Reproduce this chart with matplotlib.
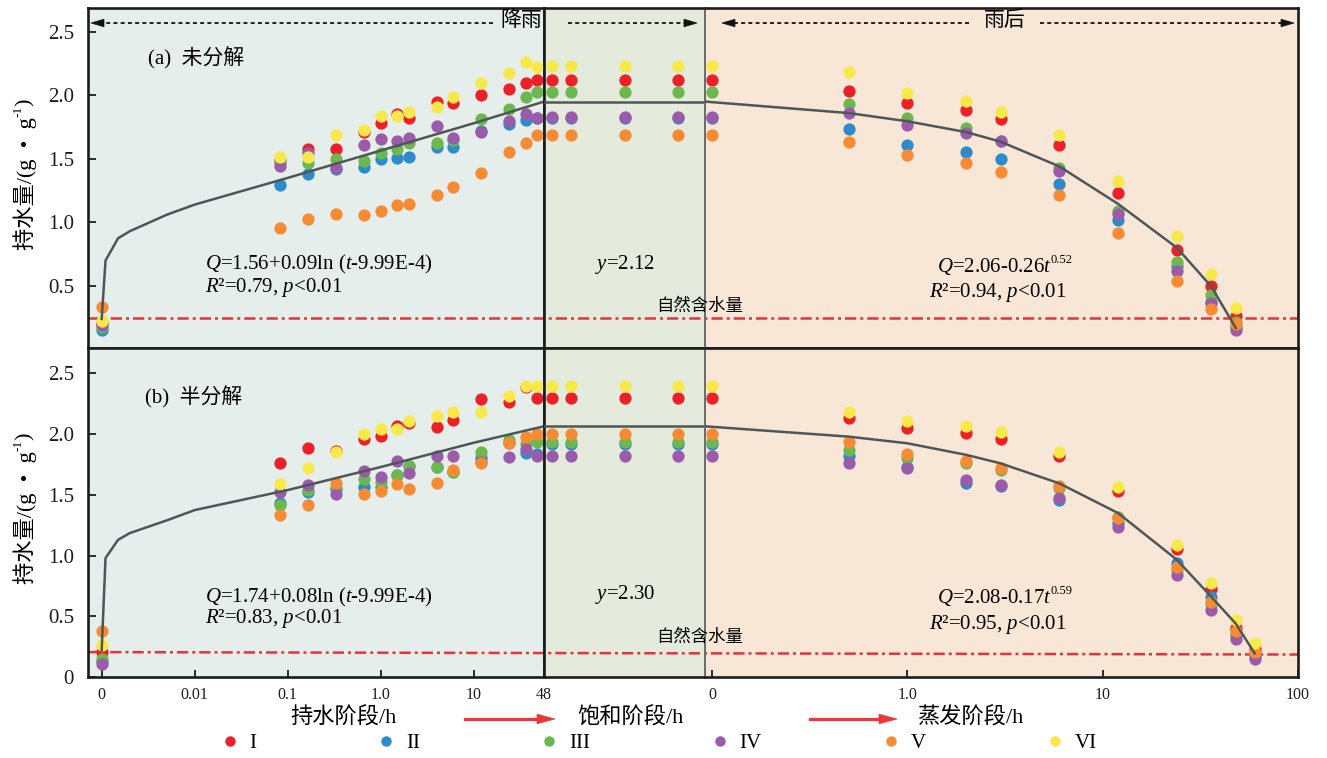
import numpy as np
import matplotlib
matplotlib.use('Agg')
import matplotlib.pyplot as plt
from matplotlib.lines import Line2D
from matplotlib.patches import Polygon
from matplotlib.ticker import NullLocator
from matplotlib.transforms import blended_transform_factory

plt.rcParams['font.family'] = ['Liberation Serif', 'Noto Sans CJK SC', 'DejaVu Sans']
plt.rcParams['mathtext.fontset'] = 'custom'
plt.rcParams['mathtext.rm'] = 'Liberation Serif'
plt.rcParams['mathtext.it'] = 'Liberation Serif:italic'
plt.rcParams['mathtext.bf'] = 'Liberation Serif:bold'
plt.rcParams['axes.unicode_minus'] = False

# ---------------- data ----------------
series = ['I', 'II', 'III', 'IV', 'V', 'VI']
colors = ['#EC2027', '#2E8BCB', '#6BB84F', '#9A5BAA', '#F68B33', '#F8E94B']

hold_t = [0, 1/12, 1/6, 1/3, 2/3, 1, 1.5, 2, 4, 6, 12, 24, 36, 48]
sat_pos = [0.5, 1.7, 5.0, 8.3]
evap_t_a = [0, 0.5, 1, 2, 3, 6, 12, 24, 36, 48]
evap_t_b = [0, 0.5, 1, 2, 3, 6, 12, 24, 36, 48, 60]

hold_a = {
    'I':   [0.21, 1.49, 1.575, 1.575, 1.71, 1.78, 1.855, 1.82, 1.95, 1.935, 2.005, 2.05, 2.095, 2.12],
    'II':  [0.155, 1.295, 1.378, 1.417, 1.438, 1.50, 1.507, 1.517, 1.59, 1.59, 1.72, 1.775, 1.805, 1.82],
    'III': [0.18, 1.465, 1.465, 1.496, 1.48, 1.548, 1.58, 1.622, 1.622, 1.65, 1.81, 1.894, 1.984, 2.028],
    'IV':  [0.19, 1.446, 1.543, 1.43, 1.606, 1.659, 1.643, 1.661, 1.756, 1.66, 1.714, 1.797, 1.853, 1.824],
    'V':   [0.337, 0.953, 1.024, 1.069, 1.056, 1.087, 1.14, 1.145, 1.216, 1.281, 1.386, 1.551, 1.622, 1.687],
    'VI':  [0.227, 1.517, 1.517, 1.685, 1.727, 1.837, 1.837, 1.868, 1.905, 1.989, 2.094, 2.172, 2.264, 2.225],
}
sat_a = {
    'I':   [2.12, 2.12, 2.12, 2.12],
    'II':  [1.82, 1.82, 1.82, 1.82],
    'III': [2.025, 2.025, 2.025, 2.025],
    'IV':  [1.825, 1.825, 1.825, 1.825],
    'V':   [1.688, 1.688, 1.688, 1.688],
    'VI':  [2.23, 2.23, 2.23, 2.23],
}
evap_a = {
    'I':   [2.12, 2.034, 1.94, 1.884, 1.814, 1.607, 1.23, 0.784, 0.50, 0.26],
    'II':  [1.82, 1.733, 1.612, 1.554, 1.497, 1.303, 1.02, 0.653, 0.37, 0.18],
    'III': [2.026, 1.932, 1.819, 1.743, 1.64, 1.426, 1.093, 0.692, 0.43, 0.22],
    'IV':  [1.826, 1.858, 1.767, 1.70, 1.641, 1.407, 1.064, 0.621, 0.369, 0.155],
    'V':   [1.688, 1.63, 1.528, 1.468, 1.40, 1.219, 0.92, 0.542, 0.317, 0.20],
    'VI':  [2.228, 2.183, 2.018, 1.955, 1.866, 1.688, 1.324, 0.894, 0.597, 0.325],
}
hold_b = {
    'I':   [0.206, 1.763, 1.889, 1.865, 1.961, 1.983, 2.071, 2.09, 2.057, 2.118, 2.291, 2.266, 2.39, 2.302],
    'II':  [0.132, 1.436, 1.526, 1.55, 1.568, 1.568, 1.66, 1.74, 1.73, 1.69, 1.80, 1.93, 1.843, 1.84],
    'III': [0.15, 1.419, 1.54, 1.554, 1.628, 1.609, 1.664, 1.741, 1.727, 1.686, 1.851, 1.95, 1.917, 1.933],
    'IV':  [0.11, 1.521, 1.581, 1.504, 1.697, 1.65, 1.782, 1.683, 1.823, 1.823, 1.77, 1.812, 1.878, 1.823],
    'V':   [0.377, 1.334, 1.419, 1.595, 1.504, 1.535, 1.59, 1.548, 1.601, 1.705, 1.76, 1.931, 1.975, 2.0],
    'VI':  [0.261, 1.587, 1.719, 1.856, 2.0, 2.046, 2.041, 2.112, 2.151, 2.181, 2.186, 2.313, 2.401, 2.401],
}
sat_b = {
    'I':   [2.302, 2.302, 2.302, 2.302],
    'II':  [1.92, 1.92, 1.92, 1.92],
    'III': [1.933, 1.933, 1.933, 1.933],
    'IV':  [1.821, 1.821, 1.821, 1.821],
    'V':   [2.002, 2.002, 2.002, 2.002],
    'VI':  [2.401, 2.401, 2.401, 2.401],
}
evap_b = {
    'I':   [2.302, 2.134, 2.052, 2.008, 1.958, 1.821, 1.535, 1.053, 0.721, 0.407, 0.23],
    'II':  [1.92, 1.821, 1.73, 1.60, 1.57, 1.458, 1.271, 0.935, 0.66, 0.35, 0.17],
    'III': [1.933, 1.870, 1.80, 1.76, 1.705, 1.554, 1.32, 0.88, 0.605, 0.358, 0.20],
    'IV':  [1.821, 1.76, 1.719, 1.623, 1.581, 1.471, 1.238, 0.839, 0.55, 0.311, 0.151],
    'V':   [2.002, 1.936, 1.837, 1.782, 1.719, 1.576, 1.306, 0.902, 0.619, 0.38, 0.206],
    'VI':  [2.401, 2.186, 2.109, 2.068, 2.021, 1.856, 1.568, 1.086, 0.778, 0.468, 0.28],
}

# fitted curves
fit_hold_x = [0.001, 0.0011, 0.0015, 0.002, 0.005, 0.01, 0.1, 1, 10, 56.6]
fit_hold_a = [0.24, 0.70, 0.875, 0.93, 1.06, 1.14, 1.35, 1.565, 1.78, 1.95]
fit_hold_b = [0.22, 0.98, 1.13, 1.185, 1.29, 1.375, 1.54, 1.73, 1.93, 2.065]
fit_sat_a = 1.95
fit_sat_b = 2.065
fit_evap_x_a = [0.092, 0.5, 1, 2, 3, 6, 12, 24, 36, 48]
fit_evap_a = [1.95, 1.86, 1.795, 1.71, 1.635, 1.44, 1.145, 0.80, 0.495, 0.17]
fit_evap_x_b = [0.092, 0.5, 1, 2, 3, 6, 12, 24, 36, 48, 60]
fit_evap_b = [2.065, 1.98, 1.925, 1.83, 1.76, 1.595, 1.35, 0.965, 0.66, 0.44, 0.195]

natural_a = [0.245, 0.245]
natural_b = [0.205, 0.185]

eq_hold_a = [r'$Q$=1.56+0.09ln ($t$-9.99E-4)', r'$R$²=0.79, $p$<0.01']
eq_hold_b = [r'$Q$=1.74+0.08ln ($t$-9.99E-4)', r'$R$²=0.83, $p$<0.01']
eq_sat_a = r'$y$=2.12'
eq_sat_b = r'$y$=2.30'
eq_evap_a = [(r'$Q$=2.06-0.26$t$', '0.52'), r'$R$²=0.94, $p$<0.01']
eq_evap_b = [(r'$Q$=2.08-0.17$t$', '0.59'), r'$R$²=0.95, $p$<0.01']

hold_ticks = [0.001, 0.01, 0.1, 1, 10, 56.6]
hold_ticklabels = ['0', '0.01', '0.1', '1.0', '10', '48']
evap_ticks = [0.1, 1, 10, 100]
evap_ticklabels = ['0', '1.0', '10', '100']

# ---------------- figure ----------------
W, H = 1327, 758
fig = plt.figure(figsize=(W / 100, H / 100), dpi=100)
renderer = fig.canvas.get_renderer()


def fx(px):
    return px / W


def fy(py):
    return 1 - py / H


X0, X1, X2, X3 = 88, 544, 705, 1298
panels = [(8, 348, (0.012, 2.686)), (348, 677, (0.0, 2.71))]
bg = ['#E6EEEC', '#E4EBDC', '#F8E7D6']
fit_col = '#4F5657'
SPW = 1.9
SPC = '#1c1c1c'

axes_all = []
for pi, (yt, yb, ylim) in enumerate(panels):
    row = []
    for si, (xa, xb) in enumerate([(X0, X1), (X1, X2), (X2, X3)]):
        ax = fig.add_axes([fx(xa), fy(yb), fx(xb) - fx(xa), fy(yt) - fy(yb)])
        ax.set_facecolor(bg[si])
        ax.set_ylim(*ylim)
        for s in ax.spines.values():
            s.set_linewidth(SPW)
            s.set_color(SPC)
        row.append(ax)
    axes_all.append(row)

for pi, row in enumerate(axes_all):
    a1, a2, a3 = row
    a1.set_xscale('log')
    a1.set_xlim(10 ** -3.147, 10 ** 1.753)
    a2.set_xlim(0, 10)
    a3.set_xscale('log')
    a3.set_xlim(10 ** -1.036, 100)
    a2.spines['right'].set_visible(False)
    a3.spines['left'].set_color('#6a6a6a')
    a3.spines['left'].set_linewidth(1.4)
    for ax in row:
        ax.xaxis.set_minor_locator(NullLocator())
        ax.yaxis.set_minor_locator(NullLocator())
    for ax in (a2, a3):
        ax.set_yticks([])
    a2.set_xticks([])
    if pi == 0:
        a1.set_xticks([])
        a3.set_xticks([])
        a1.set_yticks([0.5, 1.0, 1.5, 2.0, 2.5])
        a1.set_yticklabels(['0.5', '1.0', '1.5', '2.0', '2.5'])
    else:
        a1.set_xticks(hold_ticks)
        a1.set_xticklabels(hold_ticklabels)
        a3.set_xticks(evap_ticks)
        a3.set_xticklabels(evap_ticklabels)
        a1.set_yticks([0, 0.5, 1.0, 1.5, 2.0, 2.5])
        a1.set_yticklabels(['0', '0.5', '1.0', '1.5', '2.0', '2.5'])
        for ax in (a1, a3):
            ax.tick_params(axis='x', direction='in', length=5, width=1.3,
                           labelsize=11.5, pad=7, colors='#1c1c1c')
    a1.tick_params(axis='y', direction='in', length=6, width=1.3,
                   labelsize=15, pad=10, colors='#1c1c1c')

datasets = [
    (hold_a, sat_a, evap_a, evap_t_a, fit_hold_a, fit_sat_a, fit_evap_x_a, fit_evap_a, natural_a),
    (hold_b, sat_b, evap_b, evap_t_b, fit_hold_b, fit_sat_b, fit_evap_x_b, fit_evap_b, natural_b),
]

MS = 78
for pi, (hold, sat, evap, evap_t, fh, fs, fex, fe, nat) in enumerate(datasets):
    a1, a2, a3 = axes_all[pi]
    hx = np.where(np.array(hold_t) == 0, 0.001, np.array(hold_t))
    ex = np.where(np.array(evap_t) == 0, 0.1, np.array(evap_t))
    for name, c in zip(series, colors):
        a1.scatter(hx, hold[name], s=MS, color=c, linewidths=0, zorder=3)
        a2.scatter(sat_pos, sat[name], s=MS, color=c, linewidths=0, zorder=3)
        a3.scatter(ex, evap[name], s=MS, color=c, linewidths=0, zorder=3)
    a1.plot(fit_hold_x, fh, color=fit_col, lw=1.8, zorder=4)
    a2.plot([0, 10], [fs, fs], color=fit_col, lw=1.8, zorder=4)
    a3.plot(fex, fe, color=fit_col, lw=1.8, zorder=4)
    for ax in (a1, a2, a3):
        tr = blended_transform_factory(fig.transFigure, ax.transData)
        ax.plot([fx(X0), fx(X3)], nat, transform=tr, color='#E8323A', lw=1.8,
                linestyle=(0, (4.5, 1.6, 1.2, 1.6)), zorder=2)

# ---------------- annotations ----------------
def tri(x_tip, y, direction, length, half, color):
    xb = x_tip - direction * length
    pts = [(fx(x_tip), fy(y)), (fx(xb), fy(y - half)), (fx(xb), fy(y + half))]
    fig.add_artist(Polygon(pts, closed=True, transform=fig.transFigure,
                           facecolor=color, edgecolor=color, lw=0.5))


def dotted_arrow(x_start, x_tip, y):
    d = 1 if x_tip > x_start else -1
    fig.add_artist(Line2D([fx(x_start), fx(x_tip - d * 10)], [fy(y), fy(y)],
                          transform=fig.transFigure, color='#111111', lw=1.3,
                          linestyle=(0, (2.2, 1.8))))
    tri(x_tip, y, d, 13, 3.8, '#111111')


def red_arrow(x_start, x_tip, y):
    fig.add_artist(Line2D([fx(x_start), fx(x_tip - 14)], [fy(y), fy(y)],
                          transform=fig.transFigure, color='#EE3636', lw=2.3))
    tri(x_tip, y, 1, 18, 4.8, '#EE3636')


def width_px(t):
    return t.get_window_extent(renderer=renderer).width


def height_px(t):
    return t.get_window_extent(renderer=renderer).height


def eq_with_sup(xc, yc, main, sup, size=15, supsize=9):
    # main text with a small superscript, centred on (xc, yc) in pixels
    t1 = fig.text(0, 0, main, fontsize=size, family='Liberation Serif',
                  ha='left', va='baseline')
    t2 = fig.text(0, 0, sup, fontsize=supsize, family='Liberation Serif',
                  ha='left', va='baseline')
    w1, w2 = width_px(t1), width_px(t2)
    x0 = xc - (w1 + w2 - 2) / 2
    base = yc + 5
    t1.set_position((fx(x0), fy(base)))
    t2.set_position((fx(x0 + w1 - 2), fy(base - 9)))


def rotated_label(xc, yc, size=16):
    parts = [('持水量/(g  •  g', size, 0), ('-1', size * 0.6, 7), (')', size, 0)]
    texts = []
    for s, fs_, r in parts:
        t = fig.text(0, 0, s, fontsize=fs_, rotation=90, ha='center', va='bottom')
        texts.append((t, r))
    lens = [height_px(t) for t, _ in texts]
    total = sum(lens)
    cur = yc + total / 2  # pixel y measured from top; text runs upward
    for (t, r), L in zip(texts, lens):
        t.set_position((fx(xc - r), fy(cur)))
        cur -= L


dotted_arrow(493, 91, 23)
dotted_arrow(568, 697, 23)
dotted_arrow(969, 722, 23)
dotted_arrow(1040, 1294, 23)
fig.text(fx(542), fy(21), '降雨', ha='right', va='center', fontsize=15)
fig.text(fx(1005), fy(21), '雨后', ha='center', va='center', fontsize=15)

fig.text(fx(148), fy(58), '(a)  未分解', ha='left', va='center', fontsize=15)
fig.text(fx(145), fy(397), '(b)  半分解', ha='left', va='center', fontsize=15)

eq_fp = dict(fontsize=15, family='Liberation Serif')
fig.text(fx(205), fy(264), eq_hold_a[0], ha='left', va='center', **eq_fp)
fig.text(fx(205), fy(287), eq_hold_a[1], ha='left', va='center', **eq_fp)
fig.text(fx(205), fy(597), eq_hold_b[0], ha='left', va='center', **eq_fp)
fig.text(fx(205), fy(619), eq_hold_b[1], ha='left', va='center', **eq_fp)
fig.text(fx(625), fy(265), eq_sat_a, ha='center', va='center', **eq_fp)
fig.text(fx(625), fy(595), eq_sat_b, ha='center', va='center', **eq_fp)
eq_with_sup(1005, 267, *eq_evap_a[0])
fig.text(fx(998), fy(292), eq_evap_a[1], ha='center', va='center', **eq_fp)
eq_with_sup(1005, 598, *eq_evap_b[0])
fig.text(fx(998), fy(624), eq_evap_b[1], ha='center', va='center', **eq_fp)

fig.text(fx(700), fy(306), '自然含水量', ha='center', va='center', fontsize=12.5)
fig.text(fx(700), fy(637), '自然含水量', ha='center', va='center', fontsize=12.5)

rotated_label(25, 174)
rotated_label(25, 508)

fig.text(fx(343), fy(718), '持水阶段/h', ha='center', va='center', fontsize=16)
fig.text(fx(630), fy(718), '饱和阶段/h', ha='center', va='center', fontsize=16)
fig.text(fx(970), fy(718), '蒸发阶段/h', ha='center', va='center', fontsize=16)
red_arrow(465, 555, 719)
red_arrow(810, 897, 719)

handles = [Line2D([], [], marker='o', linestyle='', markersize=7.5,
                  markerfacecolor=c, markeredgewidth=0) for c in colors]
fig.legend(handles, series, ncol=6, loc='center left',
           bbox_to_anchor=(fx(219.6), fy(743)), frameon=False, fontsize=15,
           handlelength=1.0, handletextpad=0.44, columnspacing=5.72,
           borderpad=0, borderaxespad=0, handleheight=0.7)

fig.savefig('out.png', dpi=100)
